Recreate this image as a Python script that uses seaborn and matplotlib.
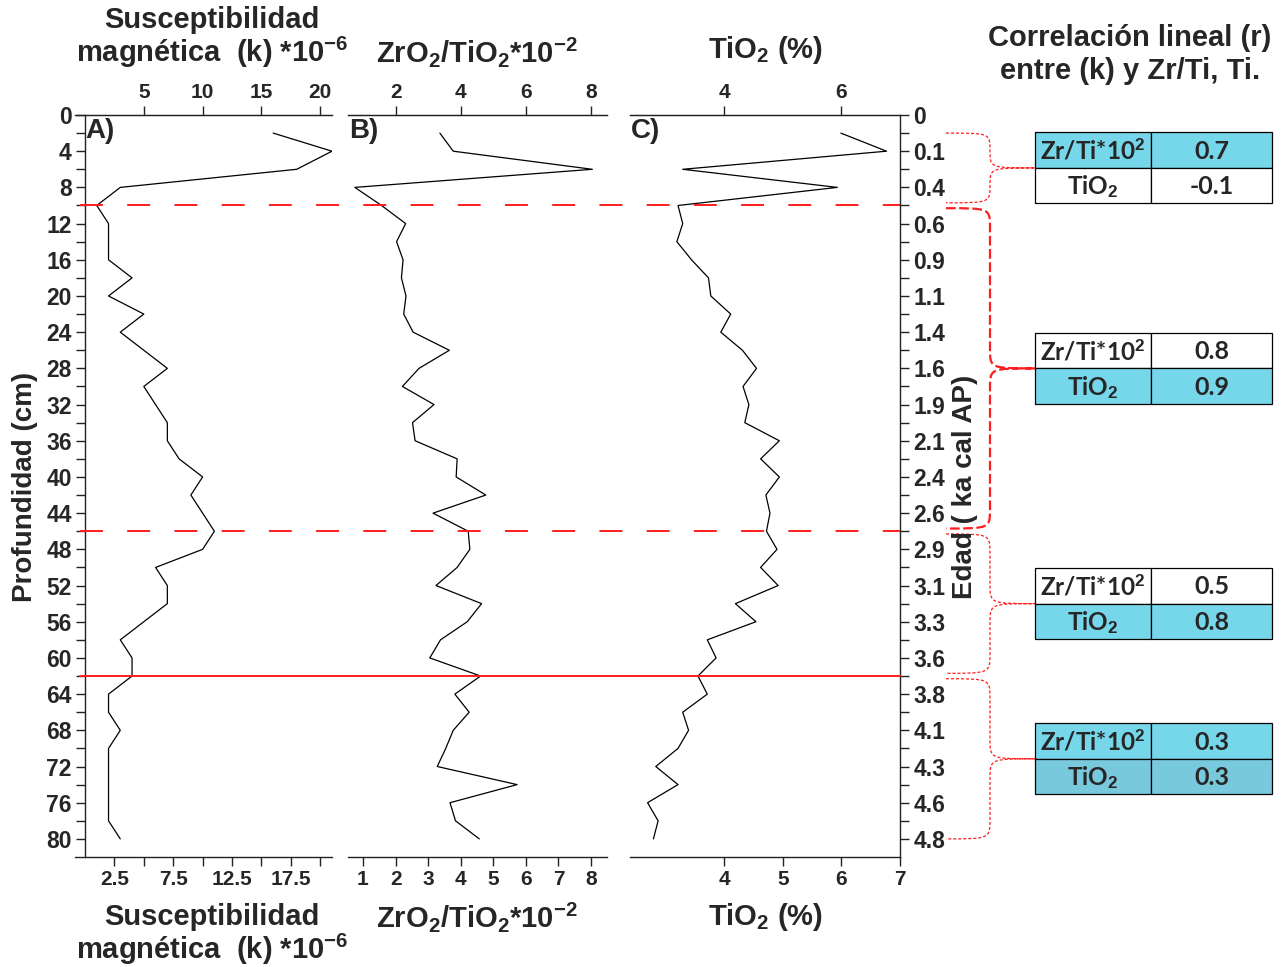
import numpy as np
import pandas as pd
import matplotlib
matplotlib.use("Agg")
import matplotlib.pyplot as plt
import seaborn as sns
from matplotlib.path import Path
from matplotlib.patches import PathPatch, Rectangle
from matplotlib.lines import Line2D
from matplotlib.transforms import blended_transform_factory

# ---------------------------------------------------------------- data
depth = list(range(2, 82, 2))  # sample depth (cm)

susceptibility = [16, 21, 18, 3, 1, 2, 2, 2, 4, 2,
                  5, 3, 5, 7, 5, 6, 7, 7, 8, 10,
                  9, 10, 11, 10, 6, 7, 7, 5, 3, 4,
                  4, 2, 2, 3, 2, 2, 2, 2, 2, 3]

zr_ti = [3.36, 3.77, 8.04, 0.75, 1.57, 2.31, 2.03, 2.23, 2.18, 2.32,
         2.25, 2.54, 3.65, 2.72, 2.21, 3.18, 2.52, 2.60, 3.89, 3.86,
         4.77, 3.15, 4.23, 4.28, 3.89, 3.24, 4.64, 4.20, 3.38, 3.05,
         4.61, 3.82, 4.26, 3.77, 3.54, 3.28, 5.73, 3.67, 3.84, 4.57]

tio2 = [5.99, 6.77, 3.29, 5.93, 3.21, 3.29, 3.19, 3.44, 3.73, 3.77,
        4.11, 3.94, 4.31, 4.55, 4.32, 4.42, 4.35, 4.94, 4.62, 4.94,
        4.71, 4.78, 4.72, 4.90, 4.62, 4.92, 4.19, 4.54, 3.71, 3.86,
        3.55, 3.71, 3.29, 3.39, 3.21, 2.83, 3.21, 2.69, 2.87, 2.79]

depth_ticks = list(range(0, 81, 4))
age_labels = ["0", "0.1", "0.4", "0.6", "0.9", "1.1", "1.4", "1.6", "1.9",
              "2.1", "2.4", "2.6", "2.9", "3.1", "3.3", "3.6", "3.8", "4.1",
              "4.3", "4.6", "4.8"]

k_top_ticks = [5, 10, 15, 20]
k_bottom_ticks = [2.5, 5, 7.5, 10, 12.5, 15, 17.5, 20]
zr_top_ticks = [2, 4, 6, 8]
zr_bottom_ticks = [1, 2, 3, 4, 5, 6, 7, 8]
ti_top_ticks = [4, 6]
ti_bottom_ticks = [4, 5, 6, 7]

# zone limits (cm) and correlation with susceptibility in each zone
zone_bounds = [2, 10, 46, 62, 80]
r_zr_ti = [0.7, 0.8, 0.5, 0.3]
r_tio2 = [-0.1, 0.9, 0.8, 0.3]
boundary_dashed = [10, 46]
boundary_solid = [62]

# ---------------------------------------------------------------- style
sns.set_style("ticks")
ARIAL = ["Liberation Sans", "DejaVu Sans"]
TABLE = ["Lato", "Liberation Sans", "DejaVu Sans"]
plt.rcParams["font.family"] = ARIAL
plt.rcParams["font.weight"] = "bold"
plt.rcParams["mathtext.fontset"] = "custom"
plt.rcParams["mathtext.rm"] = "Liberation Sans:bold"
plt.rcParams["mathtext.bf"] = "Liberation Sans:bold"
plt.rcParams["mathtext.it"] = "Liberation Sans:bold"
plt.rcParams["mathtext.sf"] = "Liberation Sans:bold"
plt.rcParams["lines.scale_dashes"] = False

RED = "#FF1E1E"
CYAN = "#76D6EA"
CYAN_DARK = "#79C9DD"
SPINE = "#222222"

W, H = 1285, 967
fig = plt.figure(figsize=(W / 100, H / 100), dpi=100)


def frac(x0, y0, x1, y1):
    return [x0 / W, 1 - y1 / H, (x1 - x0) / W, (y1 - y0) / H]


axA = fig.add_axes(frac(85, 115, 332, 857))
axB = fig.add_axes(frac(348, 115, 607, 857))
axC = fig.add_axes(frac(630, 115, 900, 857))

df = pd.DataFrame({"depth": depth, "k": susceptibility,
                   "zr": zr_ti, "ti": tio2})

for ax, col in ((axA, "k"), (axB, "zr"), (axC, "ti")):
    sns.lineplot(data=df, x=col, y="depth", orient="y", sort=False,
                 estimator=None, color="black", lw=0.9, ax=ax)
    ax.set_xlabel("")
    ax.set_ylabel("")
    ax.set_ylim(82, 0)
    ax.set_facecolor("none")
    for s in ax.spines.values():
        s.set_color(SPINE)
        s.set_linewidth(1.0)

axA.set_xlim(0, 21)
axB.set_xlim(0.54, 8.49)
axC.set_xlim(2.39, 7.0)

# the horizontal frame lines of panel A run slightly past its depth axis
axA.spines["top"].set_bounds(-0.85, 21)
axA.spines["bottom"].set_bounds(-0.85, 21)


def style_labels(labels, family, size):
    for t in labels:
        t.set_fontfamily(family)
        t.set_fontsize(size)
        t.set_fontweight("bold")


tick_kw = dict(direction="out", length=6.5, width=1.0, color=SPINE, pad=3)


def setup_x(ax, bottom_ticks, bottom_labels, top_ticks):
    ax.set_xticks(bottom_ticks)
    ax.set_xticklabels(bottom_labels)
    ax.tick_params(axis="x", bottom=True, top=False, **tick_kw)
    style_labels(ax.get_xticklabels(), ARIAL, 15)
    sec = ax.secondary_xaxis("top")
    sec.set_xticks(top_ticks)
    sec.set_xticklabels([str(v) for v in top_ticks])
    sec.tick_params(axis="x", **tick_kw)
    sec.spines["top"].set_color(SPINE)
    style_labels(sec.get_xticklabels(), ARIAL, 15)


setup_x(axA, k_bottom_ticks,
        [("%g" % v) if i % 2 == 0 else "" for i, v in enumerate(k_bottom_ticks)],
        k_top_ticks)
setup_x(axB, zr_bottom_ticks, [str(v) for v in zr_bottom_ticks], zr_top_ticks)
setup_x(axC, ti_bottom_ticks, [str(v) for v in ti_bottom_ticks], ti_top_ticks)

all_depth = list(range(0, 81, 2))
# panel A: depth axis on the left
axA.spines["right"].set_visible(False)
axA.set_yticks(all_depth)
axA.set_yticklabels([str(d) if d in depth_ticks else "" for d in all_depth])
axA.tick_params(axis="y", left=True, right=False, **tick_kw)
style_labels(axA.get_yticklabels(), ARIAL, 16.5)

# panel B: no vertical axis
axB.spines["left"].set_visible(False)
axB.spines["right"].set_visible(False)
axB.set_yticks([])

# panel C: age axis on the right
axC.spines["left"].set_visible(False)
axC.yaxis.tick_right()
axC.set_yticks(all_depth)
age_map = dict(zip(depth_ticks, age_labels))
axC.set_yticklabels([age_map.get(d, "") for d in all_depth])
axC.tick_params(axis="y", left=False, right=True, **tick_kw)
style_labels(axC.get_yticklabels(), ARIAL, 16.5)

# ---------------------------------------------------------------- overlay
ov = fig.add_axes([0, 0, 1, 1])
ov.set_xlim(0, W)
ov.set_ylim(H, 0)
ov.axis("off")
ov.patch.set_alpha(0)


def depth_px(d):
    return H - axA.transData.transform((0, d))[1]


# zone boundaries across the three panels
xl_line, xr_line = 80 / W, 900 / W
bt = blended_transform_factory(fig.transFigure, axA.transData)
for d in boundary_dashed:
    fig.add_artist(Line2D([xl_line, xr_line], [d, d], transform=bt, color=RED,
                          lw=1.4, linestyle=(0, (16.5, 17.5)), zorder=5))
for d in boundary_solid:
    fig.add_artist(Line2D([xl_line, xr_line], [d, d], transform=bt, color=RED,
                          lw=1.4, zorder=5))


def brace(y0, y1, lw, ls):
    xl, xm, xt = 946, 990, 1035
    yt = (y0 + y1) / 2
    r = min(20, (y1 - y0) / 4)
    verts = [(xl, y0), (xm, y0), (xm, y0), (xm, y0 + r),
             (xm, yt - r), (xm, yt), (xm, yt), (xt, yt),
             (xm, yt), (xm, yt), (xm, yt + r),
             (xm, y1 - r), (xm, y1), (xm, y1), (xl, y1)]
    codes = [Path.MOVETO, Path.CURVE4, Path.CURVE4, Path.CURVE4,
             Path.LINETO, Path.CURVE4, Path.CURVE4, Path.CURVE4,
             Path.CURVE4, Path.CURVE4, Path.CURVE4,
             Path.LINETO, Path.CURVE4, Path.CURVE4, Path.CURVE4]
    ov.add_patch(PathPatch(Path(verts, codes), fill=False, edgecolor=RED,
                           lw=lw, linestyle=ls))
    return yt


def corr_table(yc, zr_val, ti_val, fills):
    x0, x1, x2 = 1035, 1151, 1272
    h = 35.5
    rows = [("Zr/Ti*10$^{\\mathbf{2}}$", zr_val),
            ("TiO$_{\\mathbf{2}}$", ti_val)]
    for i, ((lab, val), fc) in enumerate(zip(rows, fills)):
        top = yc - h + i * h
        ov.add_patch(Rectangle((x0, top), x1 - x0, h, facecolor=fc,
                               edgecolor="black", lw=0.9))
        ov.add_patch(Rectangle((x1, top), x2 - x1, h, facecolor=fc,
                               edgecolor="black", lw=0.9))
        ov.text((x0 + x1) / 2, top + h / 2 + 1, lab, ha="center", va="center",
                fontsize=17.5, fontweight="bold", family=TABLE)
        ov.text((x1 + x2) / 2, top + h / 2 + 1, "%.1f" % val, ha="center",
                va="center", fontsize=18, fontweight="bold", family=TABLE)


zone_fills = [(CYAN, "white"), ("white", CYAN), ("white", CYAN), (CYAN, CYAN_DARK)]
zone_styles = [(0.9, (0, (2.2, 1.4))), (1.6, (0, (7, 2.5))),
               (0.9, (0, (2.2, 1.4))), (0.9, (0, (2.2, 1.4)))]
gap = 0.3
for i in range(4):
    d0 = zone_bounds[i] + (gap if i > 0 else 0)
    d1 = zone_bounds[i + 1] - (gap if i < 3 else 0)
    lw, ls = zone_styles[i]
    yt = brace(depth_px(d0), depth_px(d1), lw, ls)
    corr_table(yt, r_zr_ti[i], r_tio2[i], zone_fills[i])

# ---------------------------------------------------------------- text
title_kw = dict(ha="center", va="center", fontsize=21, fontweight="bold",
                family=ARIAL)
k_line1 = "Susceptibilidad"
k_line2 = "magnética  (k) *10$^{\\mathbf{-6}}$"
zr_title = "ZrO$_{\\mathbf{2}}$/TiO$_{\\mathbf{2}}$*10$^{\\mathbf{-2}}$"
ti_title = "TiO$_{\\mathbf{2}}$ (%)"

ov.text(212, 20, k_line1, **title_kw)
ov.text(212, 52, k_line2, **title_kw)
ov.text(477, 52, zr_title, **title_kw)
ov.text(765, 50, ti_title, **title_kw)
ov.text(1130, 38, "Correlación lineal (r)", **title_kw)
ov.text(1130, 71, "entre (k) y Zr/Ti, Ti.", **title_kw)

ov.text(212, 917, k_line1, **title_kw)
ov.text(212, 949, k_line2, **title_kw)
ov.text(477, 917, zr_title, **title_kw)
ov.text(765, 917, ti_title, **title_kw)

panel_kw = dict(ha="left", va="top", fontsize=20, fontweight="bold", family=ARIAL)
ov.text(85, 118, "A)", **panel_kw)
ov.text(349, 118, "B)", **panel_kw)
ov.text(631, 118, "C)", **panel_kw)

ov.text(25, 487, "Profundidad (cm)", rotation=90, ha="center", va="center",
        fontsize=20, fontweight="bold", family=ARIAL)
ov.text(965, 487, "Edad ( ka cal AP)", rotation=90, ha="center", va="center",
        fontsize=20, fontweight="bold", family=ARIAL)

fig.savefig("out.png", dpi=100)
